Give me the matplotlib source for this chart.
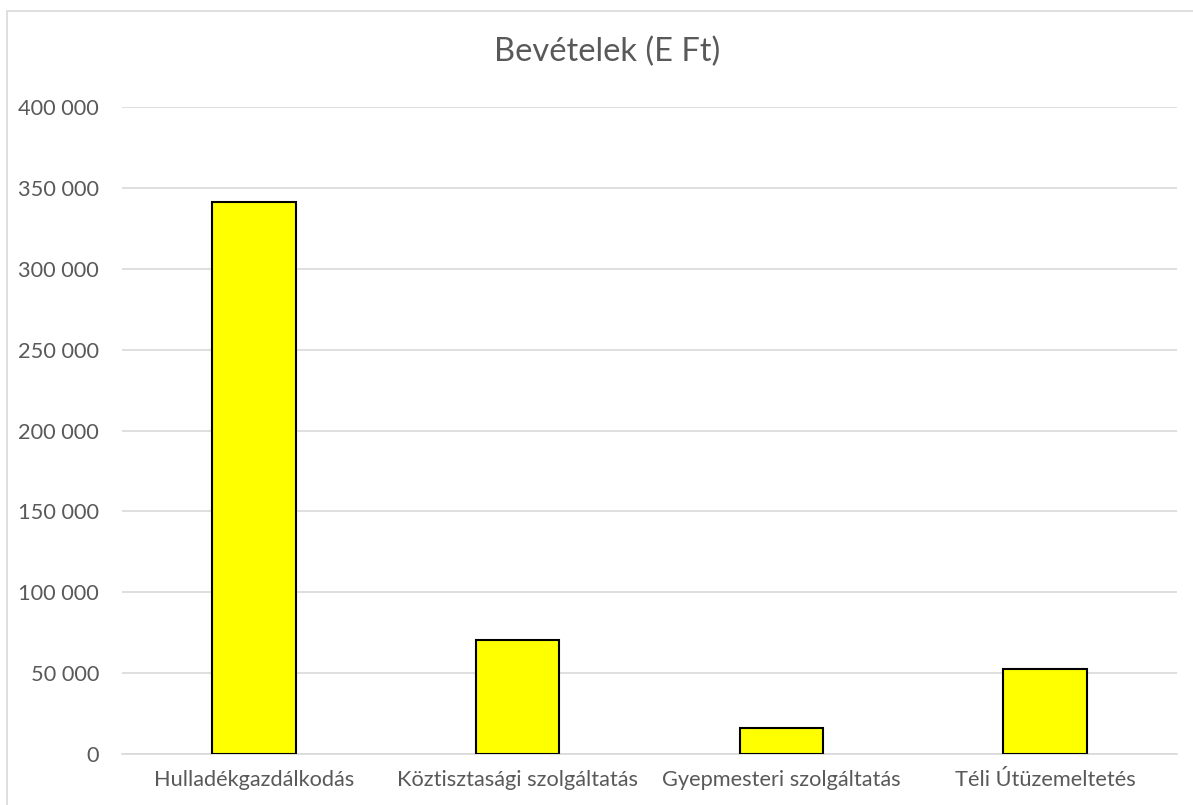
import matplotlib.pyplot as plt
from matplotlib.patches import Rectangle
from matplotlib.ticker import FuncFormatter

categories = ["Hulladékgazdálkodás", "Köztisztasági szolgáltatás",
              "Gyepmesteri szolgáltatás", "Téli Útüzemeltetés"]
values = [341200, 70500, 15900, 52800]
title = "Bevételek (E Ft)"

plt.rcParams['font.family'] = ['Lato', 'DejaVu Sans']
grey = '#595959'

fig = plt.figure(figsize=(11.93, 8.05), dpi=100)
ax = fig.add_axes([122 / 1193, 1 - 754 / 805, (1177 - 122) / 1193, (754 - 107.3) / 805])

# outer chart border (runs off the right/bottom edge like the original)
fig.patches.append(Rectangle((7 / 1193, -0.05), 1.1, 1 - 11.5 / 805 + 0.05,
                             transform=fig.transFigure, fill=False,
                             edgecolor='#d9d9d9', linewidth=1.2, clip_on=False))

x = range(len(categories))
ax.bar(x, values, width=0.316, color='#ffff00', edgecolor='black', linewidth=1.5, zorder=3)

ax.set_xlim(-0.5, len(categories) - 0.5)
ax.set_ylim(0, 400000)
ax.set_yticks(range(0, 400001, 50000))
ax.yaxis.set_major_formatter(FuncFormatter(lambda v, p: f"{int(v):,}".replace(",", " ")))
ax.set_xticks(list(x))
ax.set_xticklabels(categories)

ax.grid(axis='y', color='#d9d9d9', linewidth=1.2, zorder=0)
for s in ['top', 'right', 'left']:
    ax.spines[s].set_visible(False)
ax.spines['bottom'].set_color('#d9d9d9')
ax.spines['bottom'].set_linewidth(1.2)
ax.tick_params(axis='both', length=0, colors=grey, labelsize=15.7)
ax.tick_params(axis='y', pad=16.5)
ax.tick_params(axis='x', pad=11.5)

fig.text(607 / 1193, 1 - 52 / 805, title, ha='center', va='center', fontsize=23.5, color=grey)

fig.savefig("out.png", dpi=100)
